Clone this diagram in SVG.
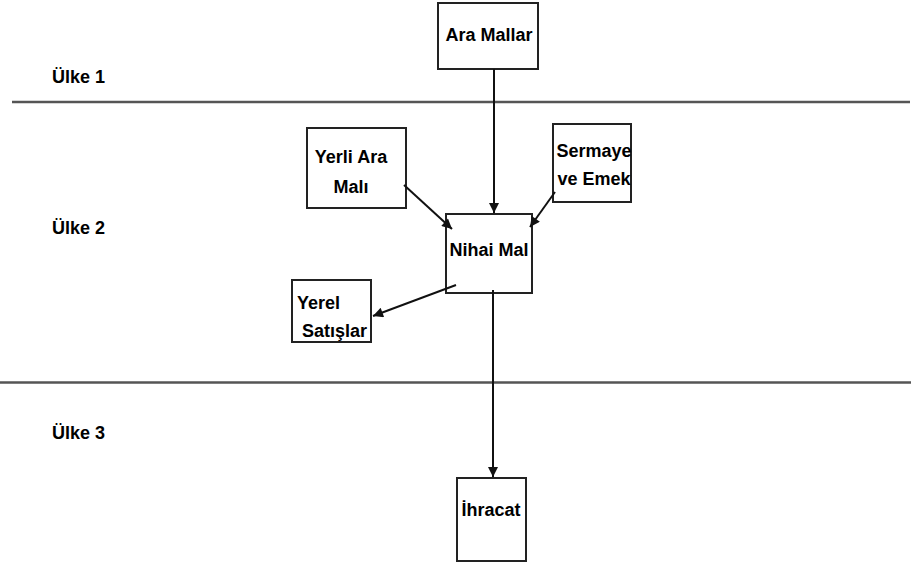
<svg xmlns="http://www.w3.org/2000/svg" width="911" height="565" viewBox="0 0 911 565">
<style>
.box{fill:#fff;stroke:#222;stroke-width:2}
.t{font-family:"Liberation Sans",Arial,sans-serif;font-weight:bold;font-size:18px;fill:#000}
.div{stroke:#555;stroke-width:2.5}
.c{stroke:#111;stroke-width:2;fill:none;marker-end:url(#ah)}
</style>
<defs>
<marker id="ah" viewBox="0 0 10 10" refX="10" refY="5" markerWidth="12" markerHeight="10" markerUnits="userSpaceOnUse" orient="auto">
<path d="M0,0 L10,5 L0,10 z" fill="#111"/>
</marker>
</defs>
<g id="dividers">
<line class="div" x1="12" y1="102" x2="910" y2="102"/>
<line class="div" x1="0" y1="382.5" x2="911" y2="382.5"/>
</g>
<g id="labels">
<text class="t" x="52" y="83">Ülke 1</text>
<text class="t" x="52" y="234">Ülke 2</text>
<text class="t" x="52" y="439">Ülke 3</text>
</g>
<g id="ara-mallar">
<rect class="box" x="438" y="3" width="100" height="66"/>
<text class="t" x="489" y="41" text-anchor="middle">Ara Mallar</text>
</g>
<g id="yerli-ara-mali">
<rect class="box" x="307" y="128" width="99" height="80"/>
<text class="t" x="351" y="163" text-anchor="middle">Yerli Ara</text>
<text class="t" x="351" y="193" text-anchor="middle">Malı</text>
</g>
<g id="sermaye-emek">
<rect class="box" x="553" y="124" width="78" height="78"/>
<text class="t" x="594" y="157" text-anchor="middle">Sermaye</text>
<text class="t" x="594" y="185" text-anchor="middle">ve Emek</text>
</g>
<g id="nihai-mal">
<rect class="box" x="446" y="214" width="86" height="79"/>
<text class="t" x="489" y="256" text-anchor="middle">Nihai Mal</text>
</g>
<g id="yerel-satislar">
<rect class="box" x="292" y="280" width="79" height="62"/>
<text class="t" x="297" y="309">Yerel</text>
<text class="t" x="302" y="337">Satışlar</text>
</g>
<g id="ihracat">
<rect class="box" x="457" y="478" width="69" height="83"/>
<text class="t" x="491" y="516" text-anchor="middle">İhracat</text>
</g>
<g id="connectors">
<line class="c" x1="494" y1="69" x2="494" y2="213"/>
<line class="c" x1="404" y1="185" x2="452" y2="229"/>
<line class="c" x1="555" y1="192" x2="530" y2="227"/>
<line class="c" x1="456" y1="285" x2="373" y2="316"/>
<line class="c" x1="493" y1="290" x2="493" y2="477"/>
</g>
</svg>
